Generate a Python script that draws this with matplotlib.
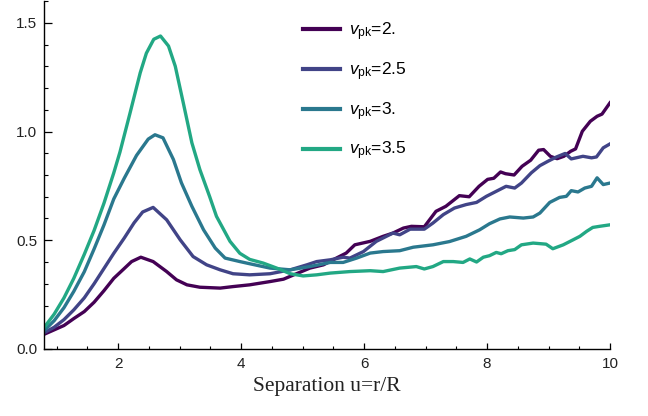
import matplotlib
matplotlib.use("Agg")
import matplotlib.pyplot as plt
from matplotlib.ticker import MultipleLocator, FixedLocator, FixedFormatter

# ---- data ----
x_v20 = [0.8, 0.96, 1.12, 1.28, 1.45, 1.61, 1.77, 1.93, 2.10, 2.22, 2.37, 2.57, 2.79, 2.95, 3.12, 3.33, 3.66, 3.87,
         4.14, 4.47, 4.69, 4.90, 5.12, 5.34, 5.55, 5.71, 5.85, 6.10, 6.31, 6.47, 6.64, 6.77, 6.98,
         7.17, 7.33, 7.55, 7.71, 7.87, 8.01, 8.11, 8.22, 8.30, 8.44, 8.57, 8.71, 8.84, 8.92, 9.03,
         9.14, 9.25, 9.36, 9.44, 9.55, 9.68, 9.79, 9.87, 10.0]
y_v20 = [0.068, 0.088, 0.108, 0.140, 0.172, 0.215, 0.268, 0.325, 0.370, 0.402, 0.422, 0.402, 0.356, 0.318, 0.295, 0.284, 0.280, 0.287,
         0.295, 0.310, 0.321, 0.346, 0.372, 0.387, 0.418, 0.441, 0.479, 0.495, 0.518, 0.533, 0.556, 0.564, 0.562,
         0.633, 0.656, 0.705, 0.700, 0.748, 0.780, 0.785, 0.814, 0.806, 0.800, 0.840, 0.868, 0.914, 0.917, 0.886,
         0.875, 0.886, 0.909, 0.920, 1.001, 1.047, 1.070, 1.080, 1.132]

x_v25 = [0.8, 0.96, 1.12, 1.28, 1.45, 1.61, 1.77, 1.93, 2.10, 2.26, 2.40, 2.57, 2.79, 3.01, 3.22, 3.44, 3.66, 3.87,
         4.14, 4.47, 4.80, 5.07, 5.23, 5.45, 5.66, 5.77, 5.99, 6.20, 6.47, 6.58, 6.75, 6.98, 7.12,
         7.29, 7.47, 7.66, 7.83, 7.99, 8.15, 8.31, 8.45, 8.56, 8.72, 8.86, 8.99, 9.13, 9.27, 9.37,
         9.56, 9.70, 9.78, 9.89, 10.0]
y_v25 = [0.075, 0.100, 0.135, 0.180, 0.235, 0.300, 0.370, 0.440, 0.510, 0.580, 0.630, 0.651, 0.594, 0.502, 0.425, 0.387, 0.364, 0.346,
         0.341, 0.346, 0.364, 0.387, 0.402, 0.410, 0.422, 0.418, 0.448, 0.495, 0.533, 0.525, 0.551, 0.551, 0.579,
         0.618, 0.648, 0.664, 0.674, 0.702, 0.725, 0.748, 0.740, 0.763, 0.810, 0.843, 0.863, 0.883, 0.899, 0.874,
         0.886, 0.879, 0.883, 0.925, 0.943]

x_v30 = [0.8, 0.96, 1.12, 1.28, 1.45, 1.61, 1.77, 1.93, 2.10, 2.30, 2.49, 2.60, 2.73, 2.90, 3.03, 3.20, 3.39,
         3.58, 3.74, 3.98, 4.14, 4.47, 4.80, 5.12, 5.45, 5.66, 5.88, 6.10, 6.31, 6.58, 6.80, 7.12,
         7.39, 7.66, 7.88, 8.04, 8.21, 8.37, 8.59, 8.75, 8.86, 9.02, 9.18, 9.29, 9.37, 9.48, 9.59,
         9.70, 9.79, 9.89, 10.0]
y_v30 = [0.085, 0.130, 0.190, 0.265, 0.355, 0.460, 0.570, 0.690, 0.785, 0.890, 0.965, 0.985, 0.971, 0.871, 0.764, 0.656, 0.548,
         0.464, 0.418, 0.402, 0.392, 0.372, 0.364, 0.379, 0.398, 0.398, 0.418, 0.441, 0.448, 0.452, 0.468, 0.479,
         0.494, 0.518, 0.548, 0.576, 0.598, 0.607, 0.602, 0.607, 0.625, 0.674, 0.697, 0.702, 0.728, 0.722, 0.740,
         0.748, 0.787, 0.756, 0.763]

x_v35 = [0.8, 0.96, 1.12, 1.28, 1.45, 1.61, 1.77, 1.93, 2.03, 2.19, 2.36, 2.46, 2.58, 2.69, 2.82, 2.93, 3.06,
         3.20, 3.33, 3.49, 3.60, 3.82, 3.98, 4.14, 4.36, 4.58, 4.80, 5.01, 5.23, 5.45, 5.77, 6.10,
         6.31, 6.58, 6.85, 6.98, 7.12, 7.29, 7.45, 7.61, 7.72, 7.83, 7.94, 8.04, 8.15, 8.23, 8.34,
         8.45, 8.56, 8.75, 8.96, 9.07, 9.24, 9.40, 9.51, 9.62, 9.72, 9.83, 10.0]
y_v35 = [0.100, 0.160, 0.235, 0.325, 0.435, 0.545, 0.670, 0.810, 0.905, 1.080, 1.270, 1.360, 1.424, 1.439, 1.393, 1.300, 1.132,
         0.948, 0.825, 0.700, 0.610, 0.495, 0.440, 0.412, 0.395, 0.372, 0.346, 0.336, 0.341, 0.349, 0.356, 0.360,
         0.356, 0.372, 0.379, 0.368, 0.379, 0.402, 0.402, 0.398, 0.414, 0.400, 0.422, 0.429, 0.444, 0.438, 0.452,
         0.457, 0.479, 0.487, 0.482, 0.461, 0.479, 0.502, 0.518, 0.541, 0.559, 0.564, 0.571]

series_labels = [r"$v_{\mathrm{pk}}$=2.", r"$v_{\mathrm{pk}}$=2.5", r"$v_{\mathrm{pk}}$=3.", r"$v_{\mathrm{pk}}$=3.5"]
series_colors = ["#440154", "#414487", "#2a788e", "#22a884"]

x_major_ticks = [2, 4, 6, 8, 10]
x_tick_labels = ["2", "4", "6", "8", "10"]
y_major_ticks = [0.0, 0.5, 1.0, 1.5]
y_tick_labels = ["0.0", "0.5", "1.0", "1.5"]
x_label = "Separation u=r/R"

# ---- figure ----
plt.rcParams["font.family"] = ["Liberation Sans", "DejaVu Sans"]
plt.rcParams["mathtext.fontset"] = "custom"
plt.rcParams["mathtext.rm"] = "Liberation Sans"
plt.rcParams["mathtext.it"] = "Liberation Sans:italic"

fig = plt.figure(figsize=(6.48, 4.16), dpi=100)
ax = fig.add_axes([44.3 / 648, 1 - 349 / 416, (610 - 44.3) / 648, (349 - 1) / 416])

xs = [x_v20, x_v25, x_v30, x_v35]
ys = [y_v20, y_v25, y_v30, y_v35]
for xv, yv, lab, col in zip(xs, ys, series_labels, series_colors):
    ax.plot(xv, yv, color=col, lw=2.4, label=lab, solid_joinstyle="round")

ax.set_xlim(0.8, 10)
ax.set_ylim(0, 1.6)
ax.spines["top"].set_visible(False)
ax.spines["right"].set_visible(False)
for s in ("left", "bottom"):
    ax.spines[s].set_linewidth(1.0)
    ax.spines[s].set_color("black")

ax.xaxis.set_major_locator(FixedLocator(x_major_ticks))
ax.xaxis.set_major_formatter(FixedFormatter(x_tick_labels))
ax.xaxis.set_minor_locator(MultipleLocator(0.5))
ax.yaxis.set_major_locator(FixedLocator(y_major_ticks))
ax.yaxis.set_major_formatter(FixedFormatter(y_tick_labels))
ax.yaxis.set_minor_locator(MultipleLocator(0.1))

ax.tick_params(axis="x", which="major", direction="in", length=4.3, width=0.9, labelsize=11, pad=6, colors="black", labelcolor="#222222")
ax.tick_params(axis="x", which="minor", direction="in", length=2.2, width=0.8, colors="black")
ax.tick_params(axis="y", which="major", direction="in", length=5.8, width=0.9, labelsize=11, pad=5, colors="black", labelcolor="#222222")
ax.tick_params(axis="y", which="minor", direction="in", length=3.0, width=0.8, colors="black")

ax.set_xlabel(x_label, family=["Liberation Serif", "DejaVu Serif"], fontsize=15.5, labelpad=4, color="#222222")

leg = fig.legend(*ax.get_legend_handles_labels(), loc="upper left",
                 bbox_to_anchor=(303 / 648, 1 - 20 / 416), bbox_transform=fig.transFigure,
                 frameon=False, fontsize=12.5, borderpad=0, borderaxespad=0,
                 handlelength=2.15, handletextpad=0.5, labelspacing=1.0)
for line in leg.get_lines():
    line.set_linewidth(3.0)

fig.savefig("out.png", dpi=100)
